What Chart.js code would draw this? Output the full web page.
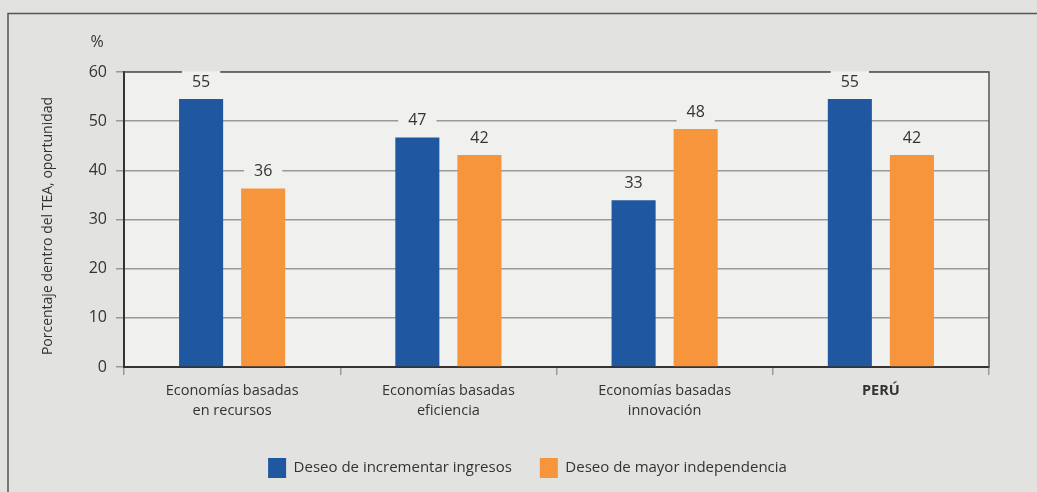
<!DOCTYPE html>
<html>
<head>
<meta charset="utf-8">
<script src="https://cdn.jsdelivr.net/npm/chart.js@4.4.1/dist/chart.umd.min.js"></script>
<style>
  html, body { margin: 0; padding: 0; background: #e2e2e0; }
  #wrap { width: 1037px; height: 492px; }
</style>
</head>
<body>
<div id="wrap"><canvas id="grafico" width="1037" height="492"></canvas></div>
<script>
// categorías del eje X (líneas múltiples)
const categorias = [
  ["Economías basadas", "en recursos"],
  ["Economías basadas", "eficiencia"],
  ["Economías basadas", "innovación"],
  ["PERÚ"]
];
// alturas de las barras
const ingresos = [54.5, 46.7, 33.9, 54.5];
const independencia = [36.3, 43.1, 48.4, 43.1];
// etiquetas mostradas sobre las barras
const etiquetasIngresos = ["55", "47", "33", "55"];
const etiquetasIndependencia = ["36", "42", "48", "42"];
const ticksY = [0, 10, 20, 30, 40, 50, 60];

const fuente = "'Open Sans', 'Noto Sans', sans-serif";
const colorTexto = "#333333";
const fondoPlot = "#f0f0ee";

// plugin: fondo del área, marco, títulos y etiquetas de valores
const decoracion = {
  id: "decoracion",
  beforeDraw(chart) {
    const c = chart.ctx, a = chart.chartArea;
    c.save();
    c.fillStyle = "#e2e2e0";
    c.fillRect(0, 0, chart.width, chart.height);
    c.fillStyle = fondoPlot;
    c.fillRect(a.left, a.top, a.right - a.left, a.bottom - a.top);
    // marco exterior
    c.strokeStyle = "#555555";
    c.lineWidth = 1.5;
    c.beginPath();
    c.moveTo(8, chart.height);
    c.lineTo(8, 13.5);
    c.lineTo(chart.width, 13.5);
    c.stroke();
    c.restore();
  },
  afterDraw(chart) {
    const c = chart.ctx, a = chart.chartArea;
    c.save();
    c.strokeStyle = "#555555";
    c.lineWidth = 1.5;
    c.beginPath();
    c.moveTo(a.left, a.top);
    c.lineTo(a.right, a.top);
    c.lineTo(a.right, a.bottom);
    c.stroke();

    // título del eje Y
    c.fillStyle = colorTexto;
    c.font = "14px " + fuente;
    c.textAlign = "center";
    c.textBaseline = "middle";
    c.save();
    c.translate(48, 226);
    c.rotate(-Math.PI / 2);
    c.fillText("Porcentaje dentro del TEA, oportunidad", 0, 0);
    c.restore();
    c.font = "16px " + fuente;
    c.fillText("%", 97, 42);

    // etiquetas de valores
    const textos = [etiquetasIngresos, etiquetasIndependencia];
    chart.data.datasets.forEach((ds, i) => {
      chart.getDatasetMeta(i).data.forEach((bar, j) => {
        const t = textos[i][j];
        const y = bar.y - 17;
        c.font = "16px " + fuente;
        const w = c.measureText(t).width + 20;
        c.fillStyle = fondoPlot;
        c.fillRect(bar.x - w / 2, y - 11, w, 22);
        c.fillStyle = colorTexto;
        c.fillText(t, bar.x, y);
      });
    });
    c.restore();
  }
};

const fuenteX = function (c) {
  return c.index === 3
    ? { family: fuente, size: 14.5, lineHeight: 1.38, weight: "bold" }
    : { family: fuente, size: 14.5, lineHeight: 1.38 };
};

const ctx = document.getElementById("grafico").getContext("2d");
const grafico = new Chart(ctx, {
  type: "bar",
  data: {
    labels: categorias,
    datasets: [
      {
        label: "Deseo de incrementar ingresos",
        data: ingresos,
        backgroundColor: "#1f58a0"
      },
      {
        label: "Deseo de mayor independencia",
        data: independencia,
        backgroundColor: "#f7953c"
      }
    ]
  },
  options: {
    responsive: false,
    animation: false,
    categoryPercentage: 0.574,
    barPercentage: 0.71,
    layout: { padding: { left: 66, right: 48, top: 72, bottom: 4 } },
    plugins: {
      legend: {
        position: "bottom",
        labels: {
          boxWidth: 18,
          boxHeight: 20,
          padding: 28,
          color: colorTexto,
          font: { family: fuente, size: 15 }
        }
      },
      tooltip: { enabled: false }
    },
    scales: {
      x: {
        grid: {
          offset: true,
          drawOnChartArea: false,
          tickLength: 8,
          color: "#999999",
          lineWidth: 1.5
        },
        border: { color: "#333333", width: 2 },
        ticks: {
          color: colorTexto,
          font: fuenteX,
          padding: 6,
          maxRotation: 0
        },
        afterFit(scale) { scale.height = 63; }
      },
      y: {
        min: 0,
        max: 60,
        afterBuildTicks(scale) {
          scale.ticks = ticksY.map(v => ({ value: v }));
        },
        grid: {
          color: "#999999",
          lineWidth: 1.5,
          tickLength: 8
        },
        border: { color: "#333333", width: 2 },
        ticks: {
          color: colorTexto,
          font: { family: fuente, size: 16 },
          padding: 9
        },
        afterFit(scale) { scale.width = 58; }
      }
    }
  },
  plugins: [decoracion]
});
</script>
</body>
</html>
